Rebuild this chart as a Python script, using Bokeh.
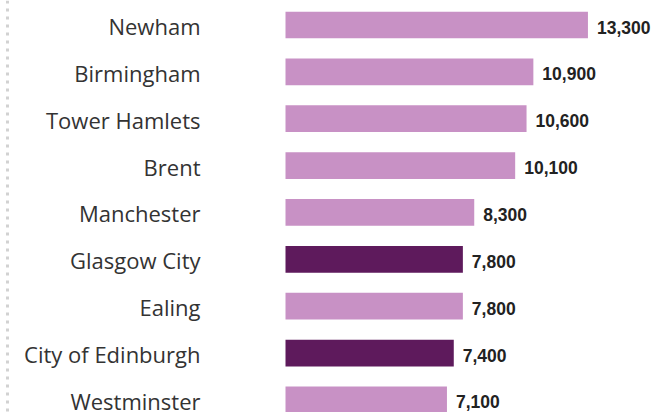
from bokeh.plotting import figure
from bokeh.models import ColumnDataSource, Range1d, Span
from bokeh.core.properties import value
from bokeh.embed import file_html
from bokeh.resources import INLINE

categories = ["Newham", "Birmingham", "Tower Hamlets", "Brent", "Manchester",
              "Glasgow City", "Ealing", "City of Edinburgh", "Westminster"]
values = [13300, 10900, 10600, 10100, 8300, 7800, 7800, 7400, 7100]
highlight = [False, False, False, False, False, True, False, True, False]

LIGHT = "#C891C5"
DARK = "#5E1A5C"

ypos = list(range(len(categories)))
colors = [DARK if h else LIGHT for h in highlight]
labels = [f"{v:,}" for v in values]

src = ColumnDataSource(dict(y=ypos, v=values, c=colors, cat=categories, lab=labels))

W, H = 660, 412
scale = 0.02274          # px per unit
left_px = 285            # frame px where value 0 sits
pitch = 46.86            # px per category
top_off = 24.5           # px from top to first bar centre

x_start = -left_px / scale
x_end = (W - left_px) / scale
y_top = -top_off / pitch
y_bot = y_top + H / pitch

p = figure(width=W, height=H, output_backend="svg", toolbar_location=None,
           x_range=Range1d(x_start, x_end), y_range=Range1d(y_bot, y_top),
           min_border=0, min_border_left=0, min_border_right=0,
           min_border_top=0, min_border_bottom=0)
p.axis.visible = False
p.grid.visible = False
p.outline_line_color = None
p.background_fill_color = "white"
p.border_fill_color = "white"

p.hbar(y="y", left=0, right="v", height=0.57, color="c", line_color=None, source=src)

p.text(x=0, y="y", text="cat", source=src, x_offset=-85, y_offset=1,
       text_align="right", text_baseline="middle", text_font=value("Open Sans"),
       text_font_size="22px", text_color="#333333")

p.text(x="v", y="y", text="lab", source=src, x_offset=9, y_offset=2,
       text_align="left", text_baseline="middle",
       text_font=value("Liberation Sans"), text_font_style="bold",
       text_font_size="17.5px", text_color="#222222")

p.add_layout(Span(location=x_start + 7.0 / scale, dimension="height",
                  line_color="#d2d2d2", line_width=3, line_dash="3 5"))

open("out.html", "w").write(file_html(p, INLINE))
